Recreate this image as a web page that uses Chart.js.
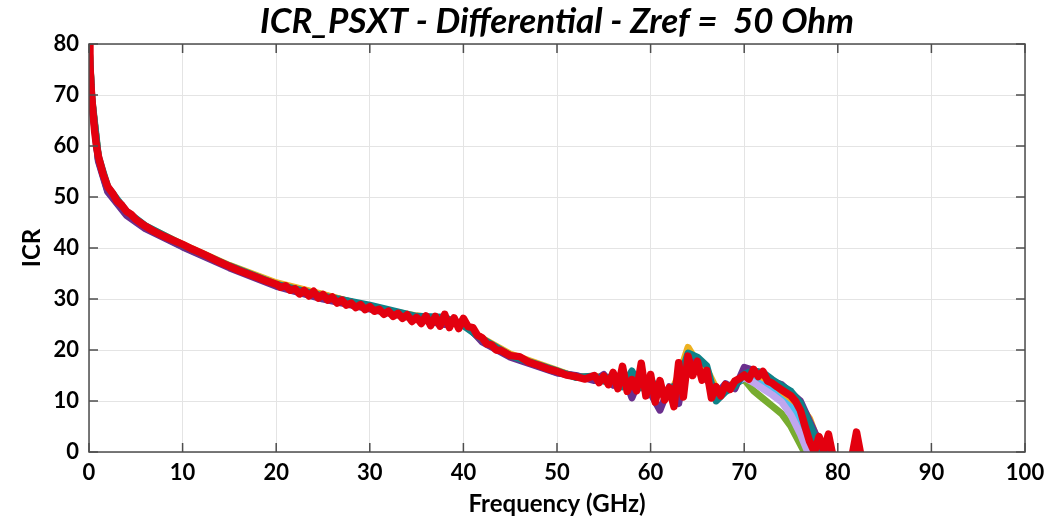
<!DOCTYPE html>
<html>
<head>
<meta charset="utf-8">
<script src="https://cdn.jsdelivr.net/npm/chart.js@4.4.1/dist/chart.umd.min.js"></script>
<style>
  body { margin: 0; background: #fff; }
  #wrap { width: 1064px; height: 525px; }
</style>
</head>
<body>
<div id="wrap"><canvas id="icr-chart"></canvas></div>
<script>
// red trace (drawn on top)
const freqRed = [0, 0.1, 0.2, 0.4, 0.6, 0.8, 1, 1.5, 2, 2.5, 3, 3.5, 4, 4.5, 5, 6, 7, 8, 9,
  10, 11, 12, 13, 14, 15, 16, 17, 18, 19,
  20, 20.5, 21, 21.5, 22, 22.5, 23, 23.5, 24, 24.5, 25, 25.5, 26, 26.5, 27, 27.5, 28, 28.5, 29, 29.5,
  30, 30.5, 31, 31.5, 32, 32.5, 33, 33.5, 34, 34.5, 35, 35.5, 36, 36.5, 37, 37.5, 38, 38.5, 39, 39.5,
  40, 40.5, 41, 41.5, 42, 42.5, 43, 43.5, 44, 45, 46, 47, 48, 49,
  50, 51, 52, 53, 54, 54.5, 55, 55.5, 56, 56.5, 57, 57.5, 58, 58.5, 59, 59.5,
  60, 60.5, 61, 61.5, 62, 62.5, 63, 63.5, 64, 64.5, 65, 65.5, 66, 66.5, 67, 67.5,
  68, 68.5, 69, 69.5, 70, 70.5, 71, 71.5, 72, 72.5, 73, 73.5, 74, 74.5, 75, 75.5,
  76, 76.5, 77, 77.5, 78, 78.5, 79, 79.5, 80, 80.5, 81, 81.5, 82, 82.5, 83];
const icrRed = [80, 76, 72, 67, 63, 60, 58, 54.5, 52, 50.8, 49.2, 48.4, 47.2, 46.6, 45.6, 44.3, 43.2, 42.3, 41.5,
  40.7, 39.8, 39.0, 38.1, 37.2, 36.4, 35.6, 34.9, 34.2, 33.5,
  32.9, 32.3, 32.6, 31.7, 32.0, 31.0, 31.7, 30.6, 31.5, 30.2, 30.9, 29.8, 30.4, 29.2, 29.8, 28.8, 29.2, 28.3, 28.9, 27.9,
  28.5, 27.6, 28.0, 27.0, 27.6, 26.6, 27.2, 26.2, 26.9, 25.6, 26.4, 25.2, 26.7, 24.8, 26.6, 24.7, 27.0, 24.4, 26.3, 24.2,
  26.2, 24.6, 24.4, 22.9, 22.4, 21.2, 21.0, 20.0, 19.9, 18.9, 18.7, 17.6, 17.0, 16.3,
  15.8, 15.1, 14.8, 14.3, 15.0, 13.6, 14.9, 13.2, 15.6, 12.4, 16.8, 11.9, 14.2, 12.0, 17.4, 11.0,
  15.2, 9.8, 14.0, 10.2, 12.6, 8.9, 17.5, 10.8, 18.8, 15.0, 17.8, 14.1, 16.0, 10.6, 12.8, 11.0,
  13.2, 12.3, 13.9, 14.4, 15.1, 14.3, 16.2, 14.8, 15.8, 13.9, 13.5, 12.8, 12.2, 11.6, 11.0, 9.9,
  8.2, 5.0, 2.0, 0, 3.0, 0.2, 3.5, -1, null, null, null, -1, 3.9, -1, null];

// other traces, mostly hidden under the red one
const freqOther = [0, 0.3, 1, 2, 4, 6, 10, 15, 20, 25, 30, 35, 38, 40, 42, 45, 50, 52, 54,
  55, 56, 57, 58, 59, 60, 61, 62, 63, 64, 65, 66, 67, 68, 69, 70, 71, 72, 73, 74, 75, 76, 77, 78, 79, 80];
const icrTeal = [80, 69.5, 58, 52, 47.2, 44.4, 40.6, 36.5, 32.9, 30.6, 28.8, 26.6, 26.4, 24.8, 22.2, 18.9, 15.9, 14.6, 14.9,
  13.9, 15.1, 12.8, 15.9, 12.6, 14.3, 11.4, 12.2, 13.6, 19.4, 18.6, 16.9, 10.0, 11.8, 12.9, 15.3, 15.9, 15.6, 14.2, 13.0, 11.9, 9.6, 5.5, 1.0, -2, -3];
const icrPurple = [79, 68.5, 57, 51, 46.4, 43.8, 40.2, 36.1, 32.5, 30.0, 28.0, 26.1, 25.0, 25.6, 21.6, 18.6, 15.5, 15.0, 14.0,
  15.2, 13.1, 15.8, 10.6, 15.0, 11.5, 8.2, 12.8, 9.5, 19.0, 16.0, 15.2, 11.2, 13.4, 12.4, 16.6, 16.0, 15.2, 13.8, 13.2, 11.6, 10.0, 6.0, 2.0, -1, -3];
const icrYellow = [80, 69, 57.7, 51.7, 47.0, 44.3, 40.7, 36.6, 33.2, 30.9, 28.4, 26.7, 25.9, 25.0, 22.3, 19.2, 16.0, 14.7, 14.8,
  14.7, 14.0, 14.5, 13.0, 14.2, 12.5, 12.6, 11.0, 15.0, 20.5, 17.5, 16.2, 12.5, 12.0, 13.8, 14.8, 15.6, 14.6, 13.8, 12.0, 10.5, 9.0, 6.5, 1.5, -2, -3];
const icrBlue = [79.5, 68.8, 57.3, 51.2, 46.6, 44.0, 40.3, 36.3, 32.7, 30.5, 28.3, 26.3, 25.4, 25.3, 21.8, 18.8, 15.6, 14.9, 14.4,
  14.4, 14.2, 13.9, 13.2, 13.8, 12.3, 11.8, 11.6, 13.4, 17.8, 17.0, 14.2, 11.6, 12.8, 13.2, 14.6, 14.8, 13.9, 12.5, 11.2, 9.8, 7.0, 2.0, -1, -3, -3];
const icrOrange = [80, 69.2, 57.6, 51.6, 46.9, 44.1, 40.5, 36.5, 33.0, 30.8, 28.5, 26.5, 25.6, 25.1, 22.0, 19.0, 15.8, 14.8, 14.6,
  14.5, 14.3, 14.0, 13.5, 13.6, 12.8, 12.0, 11.5, 14.0, 17.5, 17.2, 14.5, 12.0, 12.5, 13.5, 15.0, 15.2, 14.5, 13.0, 11.8, 10.2, 8.0, 5.0, 2.5, -2, -3];
const icrGreen = [80, 69, 57.5, 51.5, 46.9, 44.2, 40.5, 36.4, 32.9, 30.7, 28.5, 26.4, 25.7, 25.2, 22.0, 19.0, 15.8, 14.8, 14.6,
  14.5, 14.3, 14.0, 13.5, 13.6, 12.8, 12.0, 11.5, 14.0, 17.5, 17.2, 14.5, 12.0, 12.5, 13.5, 14.2, 12.0, 10.5, 9.0, 7.5, 5.0, 1.5, -2, -3, -3, -3];
const icrLilac = [80, 69, 57.5, 51.5, 46.9, 44.2, 40.5, 36.4, 32.9, 30.7, 28.5, 26.4, 25.7, 25.2, 22.0, 19.0, 15.8, 14.8, 14.6,
  14.5, 14.3, 14.0, 13.5, 13.6, 12.8, 12.0, 11.5, 14.0, 17.5, 17.2, 14.5, 12.0, 12.5, 13.5, 14.6, 13.6, 12.4, 11.2, 9.8, 7.2, 3.5, -1, -3, -3, -3];
const icrCyan = [80, 69, 57.5, 51.5, 46.9, 44.2, 40.5, 36.4, 32.9, 30.7, 28.5, 26.4, 25.7, 25.2, 22.0, 19.0, 15.8, 14.8, 14.6,
  14.5, 14.3, 14.0, 13.5, 13.6, 12.8, 12.0, 11.5, 14.0, 17.5, 17.2, 14.5, 12.0, 12.5, 13.5, 14.8, 14.5, 13.8, 12.6, 11.0, 9.0, 5.5, 0.5, -3, -3, -3];

const xTicks = [0, 10, 20, 30, 40, 50, 60, 70, 80, 90, 100];
const yTicks = [0, 10, 20, 30, 40, 50, 60, 70, 80];

const FONT = 'Lato, "Open Sans", sans-serif';

function pts(xs, ys) {
  return xs.map((f, i) => ({ x: f, y: ys[i] }));
}

function trace(label, xs, ys, color, width) {
  return {
    label,
    data: pts(xs, ys),
    borderColor: color,
    backgroundColor: color,
    borderWidth: width,
    pointRadius: 0,
    tension: 0,
    spanGaps: false,
    borderJoinStyle: 'round',
    borderCapStyle: 'round'
  };
}

// box + inward ticks like matlab
const boxPlugin = {
  id: 'box',
  afterDraw(chart) {
    const { ctx, chartArea: a, scales } = chart;
    const x = scales.x, y = scales.y;
    ctx.save();
    ctx.strokeStyle = '#4d4d4d';
    ctx.lineWidth = 1.5;
    ctx.strokeRect(a.left, a.top, a.right - a.left, a.bottom - a.top);
    ctx.beginPath();
    xTicks.forEach(v => {
      const px = x.getPixelForValue(v);
      ctx.moveTo(px, a.bottom); ctx.lineTo(px, a.bottom - 9);
      ctx.moveTo(px, a.top); ctx.lineTo(px, a.top + 9);
    });
    yTicks.forEach(v => {
      const py = y.getPixelForValue(v);
      ctx.moveTo(a.left, py); ctx.lineTo(a.left + 9, py);
      ctx.moveTo(a.right, py); ctx.lineTo(a.right - 9, py);
    });
    ctx.stroke();
    ctx.restore();
  }
};

const ctx = document.getElementById('icr-chart').getContext('2d');
new Chart(ctx, {
  type: 'line',
  data: {
    datasets: [
      trace('red', freqRed, icrRed, '#e3000f', 7.5),
      trace('teal', freqOther, icrTeal, '#0e8288', 7),
      trace('purple', freqOther, icrPurple, '#6a2f8e', 7),
      trace('yellow', freqOther, icrYellow, '#edb120', 7),
      trace('lilac', freqOther, icrLilac, '#c0a6ee', 7),
      trace('cyan', freqOther, icrCyan, '#4dbeee', 7),
      trace('blue', freqOther, icrBlue, '#0072bd', 7),
      trace('orange', freqOther, icrOrange, '#d95319', 7),
      trace('green', freqOther, icrGreen, '#77ac30', 7)
    ]
  },
  options: {
    responsive: true,
    maintainAspectRatio: false,
    animation: false,
    layout: { padding: { left: 0, right: 39, top: 0, bottom: 0 } },
    plugins: {
      legend: { display: false },
      tooltip: { enabled: false },
      title: {
        display: true,
        fullSize: false,
        text: 'ICR_PSXT - Differential - Zref =  50 Ohm',
        color: '#000',
        font: { family: FONT, size: 35, weight: 'bold', style: 'italic' },
        padding: { top: 1, bottom: 1 }
      }
    },
    scales: {
      x: {
        type: 'linear',
        min: 0,
        max: 100,
        afterFit: (s) => { s.height = 73; },
        afterBuildTicks: (s) => { s.ticks = xTicks.map(v => ({ value: v })); },
        ticks: { color: '#000', padding: 8, font: { family: FONT, size: 22, weight: 'bold' }, maxRotation: 0 },
        grid: { color: '#e4e4e4', lineWidth: 1, drawTicks: false },
        border: { display: false },
        title: {
          display: true,
          text: 'Frequency (GHz)',
          color: '#000',
          font: { family: FONT, size: 24, weight: 'bold' },
          padding: { top: 0, bottom: 6 }
        }
      },
      y: {
        min: 0,
        max: 80,
        afterFit: (s) => { s.width = 89; },
        afterBuildTicks: (s) => { s.ticks = yTicks.map(v => ({ value: v })); },
        ticks: { color: '#000', padding: 10, font: { family: FONT, size: 22, weight: 'bold' } },
        grid: { color: '#e4e4e4', lineWidth: 1, drawTicks: false },
        border: { display: false },
        title: {
          display: true,
          text: 'ICR',
          color: '#000',
          font: { family: FONT, size: 24, weight: 'bold' },
          padding: { top: 18, bottom: 0 }
        }
      }
    }
  },
  plugins: [boxPlugin]
});
</script>
</body>
</html>
